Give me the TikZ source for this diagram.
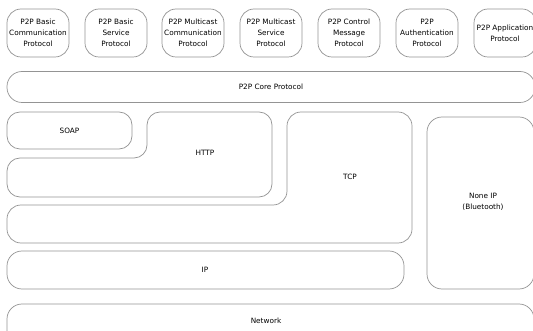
\documentclass[tikz,border=0pt]{standalone}
\usepackage{fontspec}
\setmainfont{DejaVu Sans}
\begin{document}
\begin{tikzpicture}[x=1pt,y=-1pt,
  layer/.style={draw=black!42,line width=0.7pt,rounded corners=#1},
  layer/.default=14pt,
  proto/.style={layer=14pt,minimum width=62pt,minimum height=48pt,inner sep=0pt,
    align=center,font=\fontsize{7.3pt}{11pt}\selectfont},
  lbl/.style={inner sep=0pt,align=center,font=\fontsize{7.3pt}{11pt}\selectfont}]
\clip (0,0) rectangle (533,331);
\fill[white] (0,0) rectangle (533,331);

% upper row of P2P protocols
\node[proto] (basiccomm) at (38,33)  {P2P Basic\\Communication\\Protocol};
\node[proto] (basicsvc)  at (116,33) {P2P Basic\\Service\\Protocol};
\node[proto] (mcomm)     at (193,33) {P2P Multicast\\Communication\\Protocol};
\node[proto] (msvc)      at (271,33) {P2P Multicast\\Service\\Protocol};
\node[proto] (ctrl)      at (349,33) {P2P Control\\Message\\Protocol};
\node[proto] (auth)      at (427,33) {P2P\\Authentication\\Protocol};
\node[proto] (app)       at (505,33) {P2P Application\\Protocol};

% core layer
\node[layer=15pt,minimum width=528pt,minimum height=31pt,inner sep=0pt,
  font=\fontsize{7.3pt}{11pt}\selectfont] (core) at (271,87) {P2P Core Protocol};

% SOAP
\node[layer=13pt,minimum width=125pt,minimum height=37pt,inner sep=0pt,
  font=\fontsize{7.3pt}{11pt}\selectfont] (soap) at (69.5,130.5) {SOAP};

% HTTP (stepped outline)
\draw[layer=13pt] (200,112) -- (272,112) -- (272,197) -- (7,197) -- (7,158)
  -- (147,158) -- (147,112) -- cycle;
\node[lbl] (http) at (205,153) {HTTP};

% TCP (stepped outline)
\draw[layer=14pt] (350,112) -- (412,112) -- (412,243) -- (7,243) -- (7,205)
  -- (287,205) -- (287,112) -- cycle;
\node[lbl] (tcp) at (350,177) {TCP};

% non-IP link
\draw[layer=15pt] (480,117) -- (534,117) -- (534,289) -- (427,289) -- (427,117) -- cycle;
\node[lbl] (noneip) at (483,202) {None IP\\(Bluetooth)};

% IP
\draw[layer=15pt] (200,251) -- (404,251) -- (404,289) -- (7,289) -- (7,251) -- cycle;
\node[lbl] (ip) at (205,270) {IP};

% network
\draw[layer=15pt] (266,304) -- (534,304) -- (534,345) -- (7,345) -- (7,304) -- cycle;
\node[lbl] (net) at (266,321) {Network};
\end{tikzpicture}
\end{document}
